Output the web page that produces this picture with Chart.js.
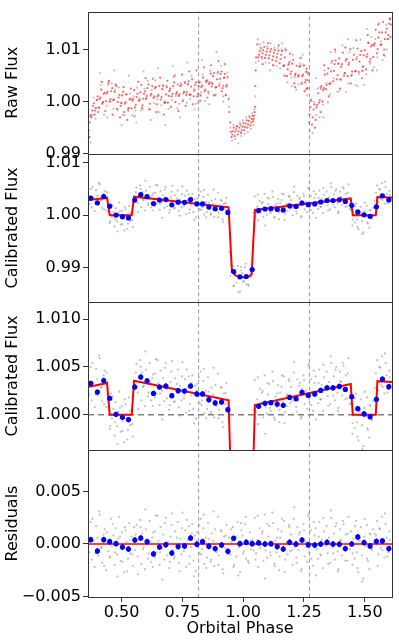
<!DOCTYPE html>
<html>
<head>
<meta charset="utf-8">
<script src="https://cdn.jsdelivr.net/npm/chart.js@4.4.1/dist/chart.umd.min.js"></script>
<style>
  html, body { margin: 0; padding: 0; background: #fff; }
  #wrap { position: relative; width: 399px; height: 642px; }
  .panel { position: absolute; left: 0; top: 0; width: 399px; height: 642px; }
</style>
</head>
<body>
<div id="wrap">
  <div class="panel"><canvas id="raw"></canvas></div>
  <div class="panel"><canvas id="cal"></canvas></div>
  <div class="panel"><canvas id="calzoom"></canvas></div>
  <div class="panel"><canvas id="resid"></canvas></div>
</div>
<script>
// Phase curve fit: raw flux, calibrated flux (two zooms) and residuals, sharing the orbital phase axis.
var X_MIN = 0.3616, X_MAX = 1.612;
var X_TICKS = [0.5, 0.75, 1.0, 1.25, 1.5];
var X_TICK_LABELS = ['0.50', '0.75', '1.00', '1.25', '1.50'];
var DASH_PHASES = [0.8165, 1.2725];

// raw flux points: [phase x1000, flux in 1e-4 from 1.0]
var RAW_RED = [
  [362,-56],[365,-55],[368,-40],[372,-26],[376,-30],[379,-17],[382,-8],[386,-3],[391,-17],[394,-12],[397,3],[401,10],
  [406,-11],[409,5],[412,8],[416,23],[420,-4],[423,-1],[426,15],[430,17],[436,1],[439,16],[442,19],[446,36],
  [451,0],[454,5],[457,20],[461,26],[465,3],[468,4],[471,19],[475,33],[481,-14],[484,-1],[487,8],[491,13],
  [496,-8],[499,-3],[502,12],[506,19],[510,-20],[513,-4],[516,-1],[520,14],[526,-15],[529,-12],[532,4],[536,6],
  [541,-13],[544,2],[547,5],[551,22],[555,-11],[558,-6],[561,9],[565,15],[571,2],[574,3],[577,18],[581,32],
  [586,-7],[589,6],[592,15],[596,20],[600,6],[603,11],[606,26],[610,33],[616,-4],[619,12],[622,15],[626,30],
  [631,7],[634,10],[637,26],[641,28],[645,-5],[648,10],[651,13],[655,30],[661,4],[664,9],[667,24],[671,30],
  [676,-2],[679,-1],[682,14],[686,28],[690,-2],[693,11],[696,20],[700,25],[706,10],[709,15],[712,30],[716,37],
  [721,-1],[724,15],[727,18],[731,33],[735,11],[738,14],[741,30],[745,32],[751,1],[754,16],[757,19],[761,36],
  [766,13],[769,18],[772,33],[776,39],[780,13],[783,14],[786,29],[790,43],[796,10],[799,23],[802,32],[806,37],
  [811,10],[814,15],[817,30],[821,37],[825,12],[828,28],[831,31],[835,46],[841,20],[844,23],[847,39],[851,41],
  [856,19],[859,34],[862,37],[866,54],[870,29],[873,34],[876,49],[880,55],[886,27],[889,28],[892,43],[896,57],
  [901,31],[904,44],[907,53],[911,58],[915,26],[918,31],[921,46],[925,53],[928,13],[930,29],[933,32],[936,47],
  [940,5],[943,-20],[946,-40],[949,-58],[952,-68],[955,-63],[958,-57],[961,-50],[965,-66],[968,-58],[971,-53],[975,-47],
  [978,-63],[981,-57],[984,-50],[988,-44],[991,-60],[994,-55],[997,-48],[1001,-41],[1004,-55],[1007,-49],[1010,-42],[1014,-36],
  [1017,-50],[1020,-44],[1023,-37],[1027,-30],[1030,-46],[1033,-40],[1036,-33],[1039,-27],[1041,-38],[1043,-33],[1045,-27],[1047,-20],
  [1049,-10],[1050,30],[1051,60],[1053,85],[1062,85],[1065,90],[1068,97],[1072,103],[1076,86],[1079,93],[1082,99],[1086,105],
  [1090,84],[1093,90],[1096,96],[1100,102],[1105,83],[1108,89],[1111,96],[1115,101],[1120,80],[1123,87],[1126,94],[1130,99],
  [1135,78],[1138,85],[1141,92],[1145,98],[1150,74],[1153,82],[1156,90],[1160,97],[1165,69],[1168,70],[1171,85],[1175,99],
  [1180,49],[1183,62],[1186,71],[1190,76],[1195,53],[1198,58],[1201,73],[1205,80],[1210,35],[1213,51],[1216,54],[1220,69],
  [1225,48],[1228,51],[1231,67],[1235,69],[1240,34],[1243,49],[1246,52],[1250,69],[1255,37],[1257,42],[1259,57],[1261,63],
  [1262,25],[1264,26],[1266,41],[1268,55],[1271,-40],[1273,-25],[1276,-10],[1279,2],[1283,-44],[1286,-30],[1289,-15],[1292,-5],
  [1298,-35],[1301,-11],[1304,-6],[1308,16],[1312,-2],[1315,3],[1318,27],[1322,30],[1326,0],[1329,22],[1332,26],[1336,52],
  [1340,24],[1343,32],[1346,54],[1350,64],[1355,34],[1358,35],[1361,58],[1365,78],[1370,39],[1373,59],[1376,72],[1380,79],
  [1385,43],[1388,51],[1391,73],[1395,83],[1400,43],[1403,67],[1406,72],[1410,94],[1415,50],[1418,55],[1421,79],[1425,82],
  [1430,49],[1433,71],[1436,75],[1440,101],[1445,50],[1448,58],[1451,80],[1455,90],[1460,58],[1463,59],[1466,82],[1470,102],
  [1475,57],[1478,77],[1481,90],[1485,97],[1490,59],[1493,67],[1496,89],[1500,99],[1505,62],[1508,86],[1511,91],[1515,113],
  [1520,77],[1523,82],[1526,106],[1530,109],[1535,86],[1538,108],[1541,112],[1545,138],[1550,93],[1553,101],[1556,123],[1560,133],
  [1565,109],[1568,110],[1571,133],[1575,153],[1580,100],[1583,120],[1586,133],[1590,140],[1594,120],[1597,128],[1600,150],[1603,158],
  [1605,124],[1607,148],
  [368,-68],[388,-25],[403,-20],[418,38],[433,-18],[448,40],[463,-25],[478,30],[493,-30],[508,28],[523,-35],[538,25],
  [553,-28],[568,38],[583,-12],[598,45],[613,-15],[628,44],[643,-20],[658,46],[673,-25],[688,40],[703,-10],[718,50],
  [733,-18],[748,52],[763,-8],[778,58],[793,-5],[808,60],[823,2],[838,66],[853,8],[868,70],[883,12],[898,78],
  [912,20],[924,72],[1058,110],[1080,72],[1102,112],[1124,70],[1146,108],[1170,50],[1192,92],[1214,28],[1236,84],[1252,20],
  [1295,-50],[1318,-20],[1333,70],[1352,10],[1378,100],[1398,25],[1420,104],[1442,35],[1465,118],[1488,45],[1512,128],[1532,60],
  [1555,148],[1578,90]];
var RAW_GREY = [
  [364,-69],[370,-29],[378,-26],[384,8],[393,-33],[399,3],[408,-12],[414,32],[422,-1],[428,-25],[438,-8],[444,32],
  [453,1],[459,35],[467,-14],[473,22],[483,-17],[489,27],[498,-2],[504,-26],[512,-26],[518,14],[528,-18],[534,16],
  [543,-26],[549,10],[557,-17],[563,27],[573,7],[579,-17],[588,-15],[594,25],[602,6],[608,40],[618,-14],[624,22],
  [633,-3],[639,41],[647,4],[653,-20],[663,-7],[669,33],[678,-3],[684,31],[692,-14],[698,22],[708,3],[714,47],
  [723,11],[729,-13],[737,-4],[743,36],[753,4],[759,38],[768,-2],[774,34],[782,5],[788,49],[798,20],[804,-4],
  [813,-2],[819,38],[827,18],[833,52],[843,1],[849,37],[858,15],[864,59],[872,36],[878,12],[888,14],[894,54],
  [903,35],[909,69],[917,10],[923,46],[929,12],[935,56],[942,-10],[948,-50],[954,-75],[960,-45],[967,-72],[973,-48],
  [980,-80],[986,-40],[993,-66],[999,-36],[1006,-62],[1012,-30],[1019,-58],[1025,-27],[1032,-52],[1038,-22],[1042,-45],[1046,-15],
  [1050,10],[1052,75],[1064,78],[1070,110],[1078,82],[1084,114],[1092,75],[1098,106],[1107,74],[1113,112],[1122,70],[1128,104],
  [1137,68],[1143,103],[1152,64],[1158,100],[1167,68],[1173,102],[1182,37],[1188,73],[1197,46],[1203,90],[1212,47],[1218,23],
  [1227,33],[1233,73],[1242,37],[1248,71],[1256,22],[1260,58],[1263,12],[1267,52],[1274,-55],[1278,5],[1285,-60],[1290,0],
  [1300,-26],[1306,25],[1314,-30],[1320,24],[1328,-6],[1334,60],[1342,35],[1348,-1],[1357,14],[1363,74],[1372,45],[1378,96],
  [1387,19],[1393,73],[1402,42],[1408,108],[1417,55],[1423,19],[1432,35],[1438,95],[1447,52],[1453,103],[1462,32],[1468,86],
  [1477,53],[1483,119],[1492,68],[1498,32],[1507,53],[1513,113],[1522,73],[1528,124],[1537,66],[1543,120],[1552,85],[1558,151],
  [1567,116],[1573,80],[1582,88],[1588,148],[1596,120],[1602,160],[1606,160],
  [372,-78],[410,55],[440,-30],[470,60],[500,-45],[530,50],[560,-40],[590,58],[620,-35],[650,64],[680,-45],[710,68],
  [740,-30],[770,75],[800,-15],[830,80],[860,-5],[890,95],[918,0],[1060,120],[1110,60],[1160,112],[1200,30],[1245,90],
  [1300,45],[1330,-30],[1360,95],[1395,20],[1430,120],[1470,30],[1510,140],[1550,60],[1590,100]];

// unbinned calibrated points (phase x1000), calibrated flux and residuals in 1e-4
var GREY_X = [362,367,373,377,384,389,395,400,404,410,415,420,426,430,437,441,
  446,451,456,460,466,471,475,481,486,490,496,501,505,511,516,520,526,531,535,541,546,
  551,
  556,561,566,570,576,581,585,591,596,600,606,611,615,621,626,630,636,641,645,651,
  656,660,666,671,675,681,686,690,696,701,705,711,716,720,726,731,735,741,746,750,
  756,761,765,771,776,780,786,791,795,801,806,810,816,821,825,831,836,840,846,851,
  855,861,866,870,876,881,885,891,896,900,906,911,915,921,926,931,
  937,942,
  947,952,957,962,967,972,977,982,987,992,997,1002,1007,1012,1017,1022,1027,1032,
  1039,1043,
  1048,1053,1058,1062,1068,1073,1077,1083,1088,1092,1098,1103,1107,1113,1118,1122,1128,1133,1137,1143,
  1148,1152,1158,1163,1167,1173,1178,1182,1188,1193,1197,1203,1208,1212,1218,1223,1227,1233,1238,1242,
  1248,1253,1257,1263,1268,1272,1278,1283,1287,1293,1298,1302,1308,1313,1317,1323,1328,1332,1338,1343,
  1347,1353,1358,1362,1368,1373,1377,1383,1388,1392,1398,1403,1407,1413,1418,1422,1428,1433,
  1439,
  1444,1449,1453,1459,1464,1468,1474,1479,1483,1489,1494,1498,1504,1509,1513,1519,1524,1528,1534,
  1541,
  1546,1551,1556,1560,1566,1571,1575,1581,1586,1590,1596,1601,1605,
  364,380,392,407,418,428,439,
  453,463,473,483,493,503,513,523,533,543,
  558,568,578,588,598,608,618,628,638,648,658,668,678,688,698,708,718,728,738,748,
  758,768,778,788,798,808,818,828,838,848,858,868,878,888,898,908,918,928,
  950,960,970,980,990,1000,1010,1020,1030,
  1050,1060,1070,1080,1090,1100,1110,1120,1130,1140,1150,1160,1170,1180,1190,1200,1210,1220,1230,1240,
  1250,1260,1270,1280,1290,1300,1310,1320,1330,1340,1350,1360,1370,1380,1390,1400,1410,1420,1430,
  1450,1460,1470,1480,1490,1500,1510,1520,1530,
  1553,1563,1573,1583,1593,1603];
var CAL_GREY = [41,21,50,15,33,8,48,37,20,59,28,14,41,46,8,34,
  5,-15,22,-4,6,-22,13,-12,3,24,-18,9,-7,-29,11,0,-16,18,-11,5,-23,
  34,
  29,53,23,39,57,15,44,30,9,47,33,23,54,15,38,42,18,58,22,33,
  10,46,25,38,14,54,17,30,5,34,45,21,13,38,25,47,8,30,15,55,
  17,37,2,28,40,11,20,41,6,30,-4,32,22,12,45,15,35,1,25,6,
  39,17,1,28,21,-3,31,9,43,5,16,28,-8,22,11,33,
  5,-70,
  -116,-108,-97,-135,-111,-129,-97,-121,-146,-106,-111,-126,-100,-132,-117,-135,-105,-119,
  -50,5,
  36,3,16,-10,27,12,23,-3,41,8,1,21,32,4,13,35,-3,19,8,31,
  -8,23,29,14,40,3,20,9,37,12,29,0,44,17,8,37,15,33,-4,27,
  41,11,25,6,51,16,37,23,4,33,40,21,12,47,16,31,4,39,28,45,
  19,34,11,54,26,40,15,50,23,7,45,34,20,51,28,41,17,59,
  11,
  12,-20,5,-14,22,-8,-27,3,16,-11,-33,7,-2,18,-16,-24,9,-6,14,
  28,
  43,57,25,50,31,61,38,22,54,41,27,46,32,
  11,54,21,62,29,11,44,
  -12,19,-8,-31,7,-17,16,-26,4,-10,
  44,6,50,29,66,19,34,9,43,57,22,-5,49,27,10,56,14,32,-1,40,
  20,47,4,33,-9,25,39,10,48,-4,24,3,49,11,-4,29,-13,23,
  -94,-136,-110,-148,-99,-128,-93,-133,-112,
  -4,39,8,25,-20,33,7,45,-5,22,5,41,-9,21,35,14,55,3,30,-2,
  36,20,53,10,46,-5,33,16,52,26,9,61,20,47,4,35,54,16,43,
  -9,17,-23,6,-36,24,-14,10,-5,
  14,49,29,64,23,39];
var RES_GREY = [12,-8,21,-15,3,-22,17,6,-11,28,-4,-18,9,14,-25,1,
  -7,-13,24,-2,8,-20,15,-10,5,26,-16,11,-5,-27,13,2,-14,20,-9,7,-21,
  16,
  -6,18,-12,4,23,-19,10,-3,-24,14,0,-9,22,-17,6,11,-13,27,-8,3,
  -20,16,-4,9,-15,25,-11,2,-23,7,18,-6,-14,12,-1,21,-18,5,-10,30,
  -7,13,-22,4,17,-12,-3,19,-16,8,-26,11,1,-9,24,-5,15,-19,6,-13,
  20,-2,-17,10,3,-21,14,-8,26,-11,0,12,-24,7,-4,18,
  -9,6,
  -10,2,16,-20,5,-12,21,-3,-27,13,8,-7,19,-14,1,-18,11,-5,
  4,-6,
  25,-9,4,-22,15,-1,10,-16,28,-6,-13,7,17,-11,-2,20,-19,3,-8,14,
  -25,6,12,-4,22,-15,1,-10,18,-7,9,-20,24,-3,-13,16,-6,11,-26,5,
  19,-12,2,-17,27,-8,13,-1,-21,8,15,-5,-14,21,-10,4,-23,12,0,17,
  -9,6,-18,25,-3,10,-15,20,-7,-24,14,3,-11,19,-4,9,-16,26,
  -5,
  12,-20,5,-14,22,-8,-27,3,16,-11,-33,7,-2,18,-16,-24,9,-6,14,
  10,
  8,22,-10,15,-4,26,3,-13,19,6,-8,12,-2,
  -18,24,-9,31,-3,-21,11,
  -12,19,-8,-31,7,-17,16,-26,4,-10,
  9,-29,16,-5,33,-14,2,-22,12,27,-8,-34,20,-1,-17,29,-12,6,-26,15,
  -4,23,-19,10,-31,3,18,-10,28,-23,5,-15,31,-6,-20,13,-28,8,
  14,-22,7,-30,20,-9,26,-16,3,
  -15,27,-4,12,-33,19,-8,30,-21,6,-12,24,-27,2,16,-6,35,-18,9,-24,
  13,-3,29,-14,21,-30,7,-11,25,-2,-19,32,-9,17,-26,4,22,-16,10,
  -9,17,-23,6,-36,24,-14,10,-5,
  -21,14,-6,29,-12,4];

// binned points
var BIN_X = [0.3727,0.4003,0.4263,0.4510,0.4769,0.5033,0.5280,0.5540,0.5787,0.6046,0.6310,0.6557,0.6816,0.7063,0.7323,0.7586,0.7834,0.8093,
  0.8328,0.8587,0.8847,0.9110,0.9370,0.9605,0.9864,1.0124,1.0371,
  1.0634,1.0894,1.1141,1.1400,1.1647,1.1911,1.2171,1.2418,1.2677,1.2941,1.3188,1.3447,1.3694,1.3954,1.4201,1.4465,1.4712,1.4971,1.5218,1.5478,1.5725,1.5989];
var CAL_BIN = [1.00326,1.00236,1.00357,1.0017,1.00003,0.99972,0.99948,1.00289,1.00393,1.00354,1.00222,1.00289,1.00299,1.00198,1.0025,1.00247,1.00299,1.00216,
  1.00216,1.00156,1.00122,1.00132,1.00052,0.9892,0.98819,0.98825,0.98958,
  1.00087,1.00118,1.00125,1.00111,1.00097,1.0018,1.00167,1.00233,1.00201,1.00216,1.00253,1.00281,1.00281,1.00295,1.00264,1.00188,1.00062,1.00007,0.99979,1.0016,1.00372,1.00292];
var RES_BIN = [0.00041,-0.00067,0.00041,0.00022,0.00003,-0.00029,-0.00048,0.00038,0.00057,0.00022,-0.00095,-0.00029,-0.00007,-0.00086,-0.00025,-0.00019,0.00057,-0.00003,
  0.00022,-0.00022,-0.00044,-0.0001,-0.0007,0.00054,0.00003,0.00016,0.00003,
  0.0001,0,0.00003,-0.00025,-0.00048,0.00016,0,0.00038,-0.00007,-0.0001,0,0.00016,0,-0.00003,-0.00044,0,0.00067,0.00013,-0.00019,0.00025,0.00029,-0.00044];
var BIN_ERR = 0.00028;

// best-fit model
var MODEL_X = [0.3616,0.4399,0.4510,0.5416,0.5511,0.9399,0.9535,0.9658,0.9835,1.0140,1.0255,1.0346,1.0482,1.4423,1.4506,1.5453,1.5519,1.6137];
var MODEL_Y = [1.0029,1.0033,1.0000,1.0000,1.00355,1.0015,0.9893,0.98855,0.9881,0.9881,0.98835,0.9886,1.0010,1.0032,1.0000,1.0000,1.0035,1.0034];

Chart.defaults.font.family = "'DejaVu Sans', sans-serif";
Chart.defaults.font.size = 16;
Chart.defaults.color = '#000';
Chart.defaults.animation = false;
Chart.defaults.plugins.legend.display = false;
Chart.defaults.plugins.tooltip.enabled = false;

var GREY = 'rgba(130,130,130,0.5)';
var RED_PT = 'rgba(255,0,0,0.6)';

var boxPlugin = {
  id: 'box',
  afterDatasetsDraw: function(chart) {
    var a = chart.chartArea, ctx = chart.ctx;
    ctx.save();
    ctx.strokeStyle = '#333';
    ctx.lineWidth = 1;
    ctx.strokeRect(Math.round(a.left) + 0.5, Math.round(a.top) + 0.5,
      Math.round(a.right - a.left), Math.round(a.bottom - a.top));
    ctx.restore();
  }
};

function zip(xs, ys) {
  return xs.map(function(x, i) { return { x: x, y: ys[i] }; });
}

function scatterSet(points, color, r, order) {
  return { data: points, showLine: false, pointRadius: r, pointBorderWidth: 0,
    pointBackgroundColor: color, borderColor: color, order: order };
}

function lineSet(points, color, width, dash, order) {
  return { data: points, borderColor: color, borderWidth: width, borderDash: dash || [],
    pointRadius: 0, tension: 0, fill: false, order: order };
}

function dashSets(lo, hi) {
  return DASH_PHASES.map(function(p) {
    return lineSet([{ x: p, y: lo }, { x: p, y: hi }], '#9a9a9a', 1, [4, 3], 9);
  });
}

function errSet(values) {
  var pts = [];
  BIN_X.forEach(function(x, i) {
    pts.push({ x: x, y: values[i] - BIN_ERR }, { x: x, y: values[i] + BIN_ERR }, { x: x, y: null });
  });
  var ds = lineSet(pts, '#0000ff', 1.5, null, 1);
  ds.spanGaps = false;
  return ds;
}

function binSet(values) {
  return scatterSet(zip(BIN_X, values), '#0000ff', 2.6, 0);
}

function makePanel(id, o) {
  var yTicks = o.yTicks, yLabels = o.yLabels;
  var xAxis = { type: 'linear', min: X_MIN, max: X_MAX, display: false };
  if (o.showX) {
    xAxis = {
      type: 'linear', min: X_MIN, max: X_MAX, offset: false,
      afterFit: function(s) { s.height = 45; },
      afterBuildTicks: function(s) { s.ticks = X_TICKS.map(function(v) { return { value: v }; }); },
      ticks: { autoSkip: false, maxRotation: 0, padding: 1,
        callback: function(v) { var i = X_TICKS.indexOf(v); return i >= 0 ? X_TICK_LABELS[i] : ''; } },
      grid: { drawOnChartArea: false, drawTicks: true, tickLength: 5, color: '#333', tickColor: '#333' },
      border: { display: false },
      title: { display: true, text: 'Orbital Phase', padding: { top: 0, bottom: 4 } }
    };
  }
  return new Chart(document.getElementById(id), {
    type: 'line',
    data: { datasets: o.datasets },
    options: {
      responsive: true,
      maintainAspectRatio: false,
      devicePixelRatio: 1,
      layout: { padding: { left: 0, right: 7, top: o.top, bottom: o.bottom } },
      scales: {
        x: xAxis,
        y: {
          type: 'linear', position: 'left', min: o.yMin, max: o.yMax,
          afterFit: function(s) { s.width = 88; },
          afterBuildTicks: function(s) { s.ticks = yTicks.map(function(v) { return { value: v }; }); },
          ticks: { autoSkip: false, padding: 2,
            callback: function(v) { var i = yTicks.indexOf(v); return i >= 0 ? yLabels[i] : ''; } },
          grid: { drawOnChartArea: false, drawTicks: true, tickLength: 5, color: '#333', tickColor: '#333' },
          border: { display: false },
          title: { display: true, text: o.title, padding: { top: 3, bottom: 0 } }
        }
      }
    },
    plugins: [boxPlugin]
  });
}

function rawPoints(pairs) {
  return pairs.map(function(p) { return { x: p[0] / 1000, y: 1 + p[1] / 1e4 }; });
}

var greyX = GREY_X.map(function(v) { return v / 1000; });
var calGrey = zip(greyX, CAL_GREY.map(function(v) { return 1 + v / 1e4; }));
var resGrey = zip(greyX, RES_GREY.map(function(v) { return v / 1e4; }));
var model = zip(MODEL_X, MODEL_Y);

makePanel('raw', {
  top: 7, bottom: 488, yMin: 0.98995, yMax: 1.0173, title: 'Raw Flux',
  yTicks: [0.99, 1.00, 1.01], yLabels: ['0.99', '1.00', '1.01'],
  datasets: dashSets(0.9, 1.1).concat([
    scatterSet(rawPoints(RAW_GREY), GREY, 1.1, 3),
    scatterSet(rawPoints(RAW_RED), RED_PT, 1.1, 2)
  ])
});

makePanel('cal', {
  top: 154, bottom: 340, yMin: 0.98337, yMax: 1.01172, title: 'Calibrated Flux',
  yTicks: [0.99, 1.00, 1.01], yLabels: ['0.99', '1.00', '1.01'],
  datasets: dashSets(0.9, 1.1).concat([
    scatterSet(calGrey, GREY, 1.1, 4),
    lineSet(model, '#ff0000', 2, null, 2),
    errSet(CAL_BIN),
    binSet(CAL_BIN)
  ])
});

makePanel('calzoom', {
  top: 302, bottom: 192, yMin: 0.9963, yMax: 1.01178, title: 'Calibrated Flux',
  yTicks: [1.000, 1.005, 1.010], yLabels: ['1.000', '1.005', '1.010'],
  datasets: dashSets(0.9, 1.1).concat([
    scatterSet(calGrey, GREY, 1.1, 4),
    lineSet([{ x: X_MIN, y: 1 }, { x: X_MAX, y: 1 }], '#808080', 1.5, [6, 4], 3),
    lineSet(model, '#ff0000', 2, null, 2),
    errSet(CAL_BIN),
    binSet(CAL_BIN)
  ])
});

makePanel('resid', {
  top: 450, bottom: 0, yMin: -0.00506, yMax: 0.00897, title: 'Residuals', showX: true,
  yTicks: [-0.005, 0, 0.005], yLabels: ['\u22120.005', '0.000', '0.005'],
  datasets: dashSets(-0.1, 0.1).concat([
    scatterSet(resGrey, GREY, 1.1, 4),
    lineSet([{ x: X_MIN, y: 0 }, { x: X_MAX, y: 0 }], '#ff0000', 1.5, null, 2),
    errSet(RES_BIN),
    binSet(RES_BIN)
  ])
});
</script>
</body>
</html>
